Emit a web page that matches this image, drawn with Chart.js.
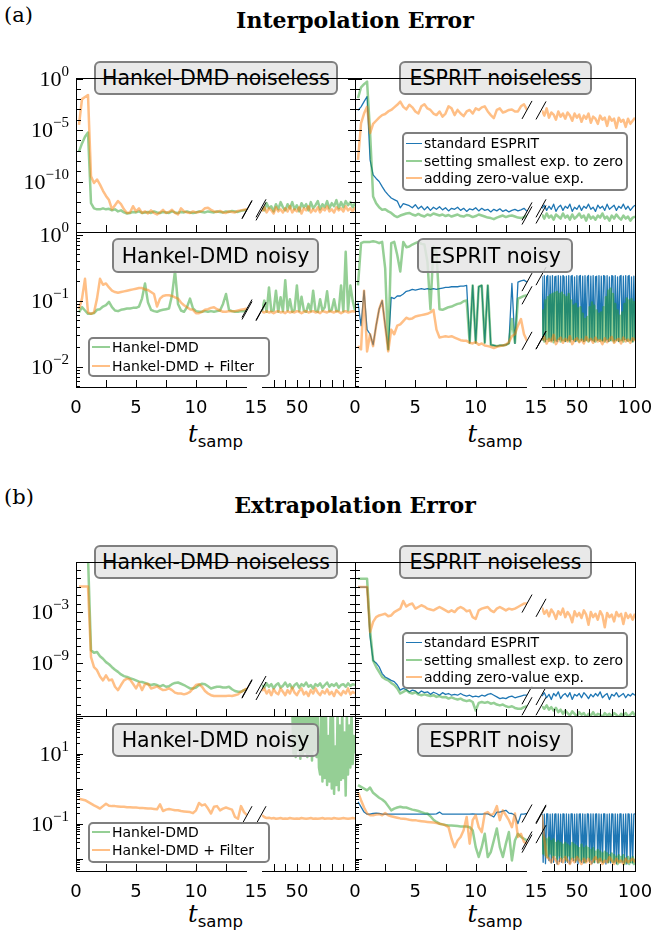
<!DOCTYPE html>
<html>
<head>
<meta charset="utf-8">
<title>Interpolation and extrapolation error</title>
<script src="https://cdn.jsdelivr.net/npm/chart.js@4.4.1/dist/chart.umd.min.js"></script>
<style>
  html, body { margin: 0; padding: 0; background: #fff; }
  #fig { position: relative; width: 655px; height: 940px; overflow: hidden; font-family: "DejaVu Sans", sans-serif; color: #000; }
  #fig canvas { position: absolute; z-index: 1; }
  .txt { position: absolute; white-space: nowrap; }
  .tag { position: absolute; box-sizing: border-box; border: 2px solid #7f7f7f; border-radius: 6px;
         background: rgba(229,229,229,0.85); font-size: 20.5px; display: flex; align-items: center;
         justify-content: center; white-space: nowrap; }
  .legend { position: absolute; box-sizing: border-box; border: 2px solid #7f7f7f; border-radius: 5px;
            background: rgba(255,255,255,0.8); font-size: 14px; white-space: nowrap; z-index: 2; }
  .legend .row { position: absolute; left: 0; display: flex; align-items: center; }
  .legend .key { display: inline-block; height: 0; margin-right: 2px; }
</style>
</head>
<body>
<div id="fig"></div>
<script>
/* ===== DATA (log10 of the error) ===== */
const tLeft = [0.25,0.5,0.75,1,1.25,1.5,1.75,2,
  2.25,2.5,2.75,3,3.25,3.5,3.75,4,
  4.25,4.5,4.75,5,5.25,5.5,5.75,6,
  6.25,6.5,6.75,7,7.25,7.5,7.75,8,
  8.25,8.5,8.75,9,9.25,9.5,9.75,10,
  10.25,10.5,10.75,11,11.25,11.5,11.75,12,
  12.25,12.5,12.75,13,13.25,13.5,13.75,14,
  14.25];
const tRight = [20,22,24,26,28,30,32,34,36,38,40,42,44,46,48,50,52,54,56,58,
  60,62,64,66,68,70,72,74,76,78,80,82,84,86,88,90,92,94,96,98,100];
// finer sampling, used for the strongly oscillating curves
const tRightFine = [20,21,22,23,24,25,26,27,28,29,30,31,32,33,34,35,36,37,38,39,
  40,41,42,43,44,45,46,47,48,49,50,51,52,53,54,55,56,57,58,59,
  60,61,62,63,64,65,66,67,68,69,70,71,72,73,74,75,76,77,78,79,
  80,81,82,83,84,85,86,87,88,89,90,91,92,93,94,95,96,97,98,99,100];

// (a) interpolation, Hankel-DMD noiseless
const interpHankelCleanRawL = [-7.1,-6.3,-5.65,-5.25,-12.1,-12.6,-12.7,-12.7,
  -12.6,-12.7,-12.65,-12.8,-12.7,-12.9,-12.8,-13.0,
  -13.1,-13.05,-12.95,-13.0,-12.9,-13.05,-13.0,-12.95,
  -13.05,-12.9,-13.0,-13.05,-12.95,-13.0,-13.05,-12.9,
  -13.0,-13.05,-12.95,-13.0,-12.9,-13.0,-13.05,-13.0,
  -12.9,-12.95,-13.0,-12.9,-12.95,-13.0,-12.9,-12.95,
  -13.0,-12.9,-12.95,-12.85,-12.9,-12.95,-12.85,-12.8,
  -12.75];
const interpHankelCleanFiltL = [-4.5,-2.0,-1.8,-1.6,-9.5,-10.15,-9.8,-10.3,
  -10.9,-11.4,-11.8,-12.7,-12.3,-11.9,-12.2,-12.7,
  -13.05,-13.0,-12.4,-12.9,-12.6,-13.05,-12.9,-13.1,
  -12.8,-13.05,-13.2,-13.0,-12.75,-13.05,-12.95,-12.75,
  -13.05,-13.2,-12.6,-12.9,-13.0,-13.05,-12.9,-13.0,
  -12.95,-12.85,-12.6,-12.55,-12.75,-12.9,-12.95,-12.85,
  -13.0,-13.05,-12.9,-12.95,-13.0,-12.85,-12.8,-12.75,
  -12.7];
const interpHankelCleanRawR = [-12.6,-12.8,-12.1,-12.6,-12.4,-12.9,-12.2,-12.7,-12.0,-12.5,
  -12.8,-12.2,-12.6,-12.0,-12.7,-12.3,-12.9,-12.1,-12.5,-12.2,
  -12.8,-12.0,-12.6,-12.3,-11.9,-12.7,-12.2,-12.5,-11.9,-12.6,
  -12.1,-12.4,-11.8,-12.6,-12.0,-12.5,-11.9,-12.3,-12.0,-12.5,-12.1];
const interpHankelCleanFiltR = [-12.9,-12.5,-13.0,-12.6,-12.8,-13.1,-12.5,-12.9,-12.7,-13.0,
  -12.6,-12.9,-12.4,-13.0,-12.7,-12.9,-12.5,-13.1,-12.6,-12.8,
  -12.4,-13.0,-12.7,-12.9,-12.5,-13.0,-12.6,-12.8,-12.4,-12.9,
  -12.7,-13.0,-12.5,-12.8,-12.6,-12.9,-12.4,-12.8,-12.6,-12.9,-12.5];

// (a) interpolation, ESPRIT noiseless
const interpEspritCleanStdL = [-3.1,-2.75,-2.25,-1.75,-7.9,-9.35,-9.7,-10.0,
  -10.5,-10.95,-11.3,-11.6,-11.75,-11.9,-12.55,-12.15,
  -12.25,-12.35,-12.55,-12.25,-12.65,-12.4,-12.75,-12.45,
  -12.8,-12.5,-12.7,-12.45,-12.75,-12.55,-12.85,-12.6,
  -12.7,-12.5,-12.8,-12.6,-12.9,-12.65,-12.75,-12.55,
  -12.85,-12.6,-12.8,-12.7,-12.95,-12.7,-12.85,-12.65,
  -12.9,-12.75,-12.95,-12.8,-12.7,-12.85,-12.75,-12.6,
  -12.9];
const interpEspritCleanDropL = [-1.9,-0.85,-0.55,-0.3,-5.3,-11.45,-12.1,-12.5,
  -12.75,-12.7,-12.9,-13.05,-13.3,-13.45,-13.3,-13.2,
  -13.1,-13.05,-13.2,-13.3,-13.15,-13.3,-13.4,-13.2,
  -13.3,-13.1,-13.2,-13.3,-13.2,-13.35,-13.25,-13.4,
  -13.3,-13.2,-13.35,-13.4,-13.25,-13.3,-13.45,-13.35,
  -13.2,-13.3,-13.4,-13.5,-13.55,-13.65,-13.5,-13.4,
  -13.3,-13.45,-13.35,-13.3,-13.4,-13.5,-13.55,-13.45,
  -13.3];
const interpEspritCleanAddL = [-7.9,-4.35,-3.4,-2.75,-5.3,-4.4,-4.1,-3.8,
  -3.55,-3.45,-3.2,-3.05,-2.8,-2.55,-2.25,-2.75,
  -3.0,-2.55,-2.8,-3.2,-3.4,-2.7,-2.5,-2.9,
  -3.05,-3.4,-3.55,-3.2,-3.7,-3.4,-2.7,-2.9,
  -3.55,-3.05,-3.4,-3.65,-3.2,-3.05,-3.4,-2.9,
  -3.05,-2.8,-2.7,-3.2,-3.55,-3.85,-3.05,-2.9,
  -3.3,-3.2,-3.05,-3.0,-3.2,-3.2,-2.7,-2.5,
  -3.05];
const interpEspritCleanStdR = [-12.6,-12.3,-12.8,-12.4,-12.7,-12.2,-12.9,-12.5,-12.3,-12.8,
  -12.4,-12.6,-12.2,-12.9,-12.5,-12.7,-12.3,-12.8,-12.4,-12.6,
  -12.2,-12.7,-12.5,-12.9,-12.3,-12.6,-12.4,-12.8,-12.2,-12.7,
  -12.5,-12.3,-12.8,-12.4,-12.6,-12.2,-12.7,-12.4,-12.8,-12.5,-12.3];
const interpEspritCleanDropR = [-13.2,-13.6,-13.1,-13.5,-13.3,-13.7,-13.2,-13.4,-13.6,-13.1,
  -13.5,-13.3,-13.7,-13.2,-13.6,-13.4,-13.1,-13.5,-13.3,-13.8,
  -13.2,-13.6,-13.4,-13.7,-13.3,-13.5,-13.1,-13.6,-13.4,-13.8,
  -13.3,-13.6,-13.2,-13.5,-13.7,-13.3,-13.6,-13.4,-13.8,-13.5,-13.4];
const interpEspritCleanAddR = [-3.1,-3.6,-2.9,-3.8,-3.3,-3.5,-4.0,-3.2,-3.7,-3.4,
  -3.9,-3.3,-3.6,-4.1,-3.4,-3.8,-3.5,-4.2,-3.6,-3.9,
  -3.4,-4.3,-3.7,-3.9,-4.4,-3.6,-4.0,-3.8,-4.6,-3.7,
  -4.1,-3.9,-4.8,-3.8,-4.2,-4.0,-4.7,-3.9,-4.4,-4.1,-3.8];

// (a) interpolation, Hankel-DMD noisy
const interpHankelNoisyRawL = [-1.18,-1.10,-1.15,-1.2,-1.2,-1.19,-1.14,-1.13,
  -1.09,-1.07,-1.02,-1.10,-1.15,-1.16,-1.14,-1.13,
  -1.12,-1.12,-1.11,-1.11,-1.09,-0.97,-0.74,-1.03,
  -1.14,-1.16,-1.17,-1.15,-1.14,-1.13,-1.12,-0.92,
  -0.55,-1.05,-1.15,-1.17,-1.1,-0.97,-1.12,-1.16,
  -1.17,-1.17,-1.16,-1.17,-1.16,-1.17,-1.16,-1.15,
  -1.05,-0.9,-1.14,-1.16,-1.17,-1.17,-1.16,-1.16,
  -1.15];
const interpHankelNoisyFiltL = [-1.13,-0.97,-0.67,-1.18,-1.2,-1.18,-0.97,-0.67,
  -0.76,-0.74,-0.8,-0.85,-0.87,-0.88,-0.87,-0.86,
  -0.85,-0.84,-0.83,-0.82,-0.81,-0.81,-0.83,-0.84,
  -0.87,-0.9,-1.09,-0.97,-0.93,-0.92,-0.92,-0.93,
  -0.95,-0.97,-1.03,-1.07,-1.1,-1.13,-1.14,-1.19,
  -1.19,-1.17,-1.14,-1.13,-1.11,-1.1,-1.13,-1.15,
  -1.17,-1.17,-1.16,-1.16,-1.16,-1.15,-1.14,-1.13,
  -1.12];
const interpHankelNoisyRawR = [-1.16,-1.0,-1.17,-0.8,-1.16,-1.15,-0.85,-1.17,-0.95,-1.16,
  -0.69,-1.15,-0.98,-1.17,-1.14,-0.77,-1.16,-0.94,-1.15,-1.17,
  -1.05,-1.16,-0.85,-1.15,-1.17,-0.98,-1.15,-1.1,-0.86,-1.16,
  -1.14,-0.98,-1.16,-1.15,-0.77,-1.16,-0.26,-1.15,-0.77,-1.0,-1.15];
const interpHankelNoisyFiltR = [-1.17,-1.18,-1.16,-1.18,-1.17,-1.19,-1.17,-1.16,-1.18,-1.17,
  -1.19,-1.16,-1.18,-1.17,-1.18,-1.16,-1.17,-1.19,-1.17,-1.16,
  -1.18,-1.17,-1.16,-1.18,-1.17,-1.19,-1.16,-1.17,-1.18,-1.16,
  -1.17,-1.18,-1.16,-1.17,-1.19,-1.17,-1.16,-1.18,-1.17,-1.16,-1.17];

// (a) interpolation, ESPRIT noisy
const interpEspritNoisyStdL = [-1.03,-1.38,-0.85,-1.44,-1.51,-1.67,-1.38,-1.13,
  -1.0,-1.38,-1.74,-0.95,-0.97,-0.93,-0.93,-0.9,
  -0.86,-0.85,-0.83,-0.84,-0.83,-0.82,-0.83,-0.82,
  -0.83,-0.82,-0.83,-0.82,-0.81,-0.8,-0.8,-0.79,
  -0.79,-0.79,-0.78,-0.78,-0.77,-1.64,-0.77,-1.64,
  -0.79,-0.77,-1.64,-0.77,-1.67,-1.68,-1.69,-1.68,
  -1.68,-1.67,-1.65,-0.74,-1.65,-0.72,-0.7,-0.69,
  -0.72];
const interpEspritNoisyDropL = [-0.77,-0.13,-0.11,-0.11,-0.11,-0.1,-0.11,-0.13,
  -0.11,-0.51,-1.74,-0.13,-0.11,-0.31,-0.56,-0.11,
  -0.19,-0.18,-0.15,-0.13,-0.11,-0.14,-0.15,-0.41,
  -1.13,-0.18,-0.26,-1.13,-1.14,-1.12,-1.1,-1.09,
  -1.07,-1.05,-1.04,-1.01,-1.0,-1.64,-0.77,-1.64,
  -0.79,-0.77,-1.64,-0.77,-1.67,-1.68,-1.69,-1.68,
  -1.68,-1.67,-1.65,-1.28,-1.64,-0.97,-0.95,-0.93,
  -0.92];
const interpEspritNoisyAddL = [-1.69,-1.74,-0.85,-1.77,-1.51,-1.69,-1.38,-1.13,
  -1.0,-1.38,-1.77,-1.44,-1.51,-1.38,-1.36,-1.31,
  -1.26,-1.28,-1.27,-1.24,-1.23,-1.22,-1.21,-1.2,
  -1.18,-1.14,-1.44,-1.56,-1.55,-1.54,-1.55,-1.54,
  -1.56,-1.58,-1.6,-1.61,-1.61,-1.64,-1.65,-1.63,
  -1.67,-1.65,-1.68,-1.69,-1.7,-1.72,-1.7,-1.69,
  -1.68,-1.67,-1.63,-1.54,-1.51,-1.38,-1.28,-1.51,
  -1.61];
const interpEspritNoisyStdR = [-0.63,-1.6,-0.62,-1.62,-0.64,-0.62,-1.58,-0.63,-1.61,-0.62,
  -1.6,-0.64,-0.63,-1.62,-0.62,-1.59,-0.63,-1.6,-0.62,-0.64,
  -1.62,-0.63,-1.6,-0.62,-1.61,-0.63,-0.62,-1.6,-0.64,-1.62,
  -0.62,-1.59,-0.63,-0.62,-1.6,-0.63,-1.62,-0.62,-1.6,-0.64,
  -0.62,-1.61,-0.63,-1.6,-0.62,-1.62,-0.64,-0.63,-1.6,-0.62,
  -1.59,-0.63,-1.61,-0.62,-0.63,-1.6,-0.62,-1.62,-0.64,-1.6,
  -0.62,-0.63,-1.61,-0.62,-1.6,-0.64,-1.62,-0.63,-0.62,-1.6,
  -0.63,-1.59,-0.62,-1.61,-0.63,-0.62,-1.6,-0.64,-1.62,-0.63,-1.6];
const interpEspritNoisyDropR = [-1.6,-1.15,-1.62,-1.0,-1.58,-0.95,-1.61,-0.92,-1.6,-0.9,
  -1.63,-0.88,-1.6,-0.87,-1.58,-0.9,-1.62,-0.88,-1.6,-0.92,
  -1.61,-0.95,-1.6,-0.9,-1.62,-1.0,-1.58,-1.08,-1.61,-1.05,
  -1.6,-1.12,-1.62,-1.1,-1.59,-1.2,-1.61,-1.28,-1.6,-1.25,
  -1.62,-1.1,-1.58,-1.03,-1.6,-1.08,-1.62,-1.15,-1.59,-1.2,
  -1.61,-1.18,-1.6,-1.1,-1.62,-0.95,-1.58,-0.85,-1.61,-0.82,
  -1.6,-0.9,-1.62,-1.05,-1.59,-1.15,-1.61,-1.23,-1.6,-1.18,
  -1.62,-1.05,-1.58,-0.97,-1.61,-1.0,-1.6,-0.98,-1.62,-1.02,-1.6];
const interpEspritNoisyAddR = [-1.6,-1.55,-1.65,-1.58,-1.62,-1.52,-1.66,-1.6,-1.56,-1.64,
  -1.58,-1.62,-1.54,-1.66,-1.6,-1.57,-1.63,-1.59,-1.65,-1.55,
  -1.61,-1.58,-1.64,-1.56,-1.62,-1.6,-1.66,-1.57,-1.63,-1.59,
  -1.55,-1.64,-1.6,-1.58,-1.65,-1.56,-1.62,-1.59,-1.64,-1.57,-1.61];

// (b) extrapolation, Hankel-DMD noiseless (first points lie above the plot)
const extrapHankelCleanRawL = [3.5,3.5,3.5,3.5,-7.5,-7.8,-7.7,-8.2,
  -8.5,-8.9,-9.15,-9.5,-9.8,-10.05,-10.35,-10.55,
  -10.65,-10.8,-10.9,-11.05,-11.2,-11.25,-11.35,-11.5,
  -11.6,-11.5,-11.6,-11.75,-11.6,-11.8,-11.75,-11.5,
  -11.35,-11.3,-11.45,-11.6,-11.8,-12.0,-12.0,-11.9,
  -11.6,-11.45,-11.5,-11.75,-12.0,-11.9,-11.8,-11.8,
  -11.9,-11.9,-11.8,-12.1,-12.3,-12.4,-12.4,-12.2,
  -12.1];
const extrapHankelCleanFiltL = [0.02,0.02,0.02,0.02,-8.3,-9.5,-9.85,-10.6,
  -11.05,-10.45,-11.05,-10.95,-11.8,-12.2,-11.6,-11.05,
  -10.85,-10.95,-11.45,-12.0,-11.35,-12.2,-11.5,-11.45,
  -12.0,-11.9,-11.75,-12.0,-12.2,-12.15,-12.0,-12.2,
  -12.5,-12.6,-12.6,-12.7,-12.6,-12.4,-12.0,-11.6,
  -11.5,-11.8,-12.3,-12.6,-12.8,-12.9,-12.9,-12.9,
  -12.9,-12.9,-12.85,-12.9,-12.8,-12.7,-12.4,-12.2,
  -12.0];
const extrapHankelCleanRawR = [-11.6,-11.9,-11.4,-11.8,-11.5,-12.0,-11.6,-11.4,-11.9,-11.7,
  -11.3,-11.8,-11.5,-12.0,-11.6,-11.4,-11.9,-11.5,-11.7,-11.3,
  -11.8,-11.6,-12.0,-11.5,-11.7,-11.4,-11.9,-11.6,-11.3,-11.8,
  -11.5,-11.7,-11.4,-11.9,-11.6,-11.5,-11.8,-11.4,-11.7,-11.5,-11.6];
const extrapHankelCleanFiltR = [-12.3,-12.0,-12.6,-12.2,-12.8,-12.1,-12.5,-12.7,-12.0,-12.4,
  -12.8,-12.2,-12.6,-11.9,-12.5,-12.8,-12.3,-12.0,-12.7,-12.4,
  -12.9,-12.2,-12.6,-12.0,-12.5,-12.8,-12.3,-12.6,-12.1,-12.7,
  -12.4,-12.9,-12.2,-12.5,-12.8,-12.3,-12.6,-12.0,-12.7,-12.4,-12.6];

// (b) extrapolation, ESPRIT noiseless
const extrapEspritCleanStdL = [-0.05,-0.05,-0.05,-0.05,-5.9,-8.7,-9.0,-9.45,
  -10.25,-10.65,-10.85,-11.05,-11.2,-11.6,-12.2,-12.0,
  -12.15,-12.4,-12.2,-12.3,-12.6,-12.3,-12.5,-12.4,
  -12.7,-12.45,-12.6,-12.8,-12.5,-12.7,-12.6,-12.8,
  -12.7,-12.8,-12.6,-12.8,-12.9,-12.8,-13.0,-12.9,
  -13.0,-12.8,-12.9,-12.7,-12.6,-12.8,-13.0,-13.2,
  -13.1,-13.2,-13.0,-12.9,-13.1,-13.0,-12.9,-12.8,
  -12.8];
const extrapEspritCleanDropL = [0.93,0.93,0.93,0.93,-5.15,-8.7,-9.45,-10.05,
  -10.65,-10.9,-11.05,-11.35,-11.6,-12.0,-12.6,-12.4,
  -12.2,-12.5,-12.6,-12.45,-12.7,-12.8,-12.7,-12.8,
  -12.9,-12.8,-13.0,-12.9,-13.05,-13.0,-13.2,-13.05,
  -13.2,-13.3,-13.2,-13.4,-13.5,-13.4,-13.6,-14.6,
  -13.7,-13.6,-13.7,-13.6,-13.8,-13.7,-13.9,-14.0,
  -13.9,-14.1,-14.2,-14.1,-14.3,-14.4,-14.4,-14.2,
  -14.1];
const extrapEspritCleanAddL = [-0.05,-0.05,-0.05,-0.05,-5.35,-4.15,-3.6,-3.4,
  -3.3,-3.2,-3.5,-3.4,-3.0,-2.8,-2.6,-1.7,
  -2.35,-2.1,-2.0,-2.6,-2.4,-2.2,-2.35,-2.6,
  -2.7,-2.8,-2.6,-2.4,-2.6,-2.8,-3.0,-2.8,
  -3.0,-2.6,-2.4,-2.6,-2.9,-2.8,-3.6,-3.8,
  -2.8,-2.6,-2.5,-2.4,-2.8,-3.0,-2.6,-2.4,
  -2.6,-2.8,-2.6,-2.7,-2.6,-2.4,-2.2,-2.0,
  -2.0];
const extrapEspritCleanStdR = [-12.9,-12.5,-13.1,-12.7,-13.3,-12.6,-12.9,-12.4,-13.2,-12.8,
  -12.6,-13.0,-12.5,-13.3,-12.7,-12.9,-12.6,-13.1,-12.5,-12.8,
  -13.2,-12.7,-13.0,-12.6,-12.9,-12.4,-13.1,-12.8,-12.6,-13.3,
  -12.7,-12.9,-12.5,-13.0,-12.8,-12.6,-13.1,-12.7,-12.9,-12.6,-12.8];
const extrapEspritCleanDropR = [-14.1,-14.4,-14.0,-14.5,-14.2,-14.6,-14.3,-14.8,-14.5,-15.0,
  -14.6,-14.9,-15.2,-14.7,-15.0,-15.3,-14.8,-15.1,-14.9,-15.4,
  -15.0,-15.2,-14.8,-15.3,-15.0,-15.1,-15.4,-14.9,-15.2,-15.0,
  -15.3,-14.9,-15.1,-15.4,-15.0,-15.2,-14.9,-15.3,-15.1,-14.8,-15.2];
const extrapEspritCleanAddR = [-2.5,-3.2,-2.8,-3.5,-2.7,-3.1,-3.8,-2.9,-3.3,-2.6,
  -3.6,-3.0,-3.4,-4.2,-2.9,-3.5,-3.1,-3.7,-2.8,-3.3,
  -4.5,-3.0,-3.6,-3.2,-3.9,-2.9,-3.4,-4.8,-3.1,-3.6,
  -3.3,-4.1,-3.0,-3.5,-3.2,-4.4,-3.1,-3.7,-3.3,-3.9,-3.2];

// (b) extrapolation, Hankel-DMD noisy (plain Hankel-DMD stays above the plot until t ~ 46)
const extrapHankelNoisyRawL = [];
const extrapHankelNoisyFiltL = [-0.29,-0.31,-0.33,-0.38,-0.43,-0.48,-0.52,-0.57,
  -0.5,-0.43,-0.49,-0.5,-0.5,-0.51,-0.52,-0.52,
  -0.53,-0.53,-0.54,-0.54,-0.55,-0.55,-0.56,-0.57,
  -0.57,-0.58,-0.59,-0.45,-0.64,-0.6,-0.58,-0.6,
  -0.62,-0.62,-0.64,-0.65,-0.66,-0.67,-0.7,-0.62,
  -0.41,-0.48,-0.45,-0.57,-0.71,-0.52,-0.5,-0.62,
  -0.57,-0.54,-0.57,-0.6,-0.81,-0.86,-0.5,-0.67,
  -0.76];
const extrapHankelNoisyRawR = [null,null,null,null,null,null,null,null,null,null,
  null,null,null,null,null,null,null,null,null,null,
  null,null,null,null,null,null,2.3,1.0,2.3,0.9,
  2.2,1.1,2.3,0.85,2.3,0.95,2.2,1.05,2.3,0.9,
  2.2,1.0,2.3,0.8,2.2,1.1,2.3,0.9,2.2,0.6,
  0.4,2.2,0.2,2.1,0.3,2.2,0.1,1.5,0.2,2.2,
  0.0,2.1,-0.15,1.2,0.1,2.2,-0.05,1.8,0.25,2.2,
  0.3,1.6,-0.2,2.1,0.4,1.8,0.6,2.2,0.7,1.5,1.0];
const extrapHankelNoisyFiltR = [-0.76,-0.81,-0.84,-0.83,-0.85,-0.84,-0.86,-0.85,-0.84,-0.86,
  -0.85,-0.86,-0.84,-0.85,-0.86,-0.85,-0.86,-0.84,-0.85,-0.86,
  -0.85,-0.84,-0.86,-0.85,-0.86,-0.85,-0.84,-0.86,-0.85,-0.85,
  -0.86,-0.84,-0.85,-0.86,-0.85,-0.84,-0.85,-0.86,-0.85,-0.84,-0.85];

// (b) extrapolation, ESPRIT noisy
const extrapEspritNoisyStdL = [-0.38,-0.52,-0.67,-0.73,-0.73,-0.71,-0.7,-0.71,
  -0.73,-0.73,-0.73,-0.73,-0.73,-0.73,-0.73,-0.73,
  -0.73,-0.73,-0.73,-0.73,-0.73,-0.73,-0.73,-0.73,
  -0.73,-0.73,-0.72,-0.67,-0.73,-0.73,-0.73,-0.73,
  -0.73,-0.73,-0.73,-0.73,-0.73,-0.73,-0.72,-0.73,
  -0.73,-0.73,-0.72,-0.72,-0.76,-0.81,-0.67,-0.67,
  -0.64,-0.62,-0.7,-0.71,-0.76,-1.0,-0.73,-0.73,
  -0.71];
const extrapEspritNoisyDropL = [0.1,0.05,0.0,-0.05,0.03,-0.12,-0.19,-0.26,
  -0.31,-0.38,-0.5,-0.62,-0.57,-0.54,-0.52,-0.54,
  -0.54,-0.57,-0.6,-0.62,-0.64,-0.67,-0.7,-0.71,
  -0.79,-0.89,-0.95,-1.0,-1.02,-1.04,-1.05,-1.05,
  -1.06,-1.07,-1.08,-1.08,-1.08,-1.1,-1.19,-1.67,
  -1.95,-1.67,-1.29,-1.95,-1.81,-1.48,-1.14,-1.67,
  -1.95,-1.57,-1.24,-2.05,-1.48,-1.29,-1.38,-1.43,
  -1.48];
const extrapEspritNoisyAddL = [-0.1,-0.33,-0.54,-0.71,-0.76,-0.76,-0.74,-0.73,
  -0.76,-0.7,-0.76,-0.79,-0.81,-0.83,-0.85,-0.86,
  -0.87,-0.89,-0.9,-0.9,-0.92,-0.93,-0.94,-0.95,
  -0.96,-0.97,-0.98,-1.0,-1.02,-1.05,-1.1,-1.43,
  -1.67,-1.48,-1.38,-1.19,-0.81,-1.57,-0.9,-0.76,
  -1.1,-1.24,-0.71,-0.67,-0.76,-0.71,-0.5,-0.9,
  -0.62,-0.76,-0.9,-1.1,-0.71,-1.38,-1.29,-1.52,
  -1.57];
const extrapEspritNoisyStdR = [-0.72,-2.1,-0.73,-2.14,-0.72,-0.72,-2.05,-0.73,-2.12,-0.72,
  -2.1,-0.73,-0.72,-2.15,-0.72,-2.08,-0.73,-2.1,-0.72,-0.73,
  -2.12,-0.72,-2.1,-0.73,-2.14,-0.72,-0.72,-2.05,-0.73,-2.1,
  -0.72,-2.15,-0.73,-0.72,-2.1,-0.72,-2.12,-0.73,-2.08,-0.72,
  -0.73,-2.1,-0.72,-2.14,-0.72,-2.1,-0.73,-0.72,-2.12,-0.72,
  -2.05,-0.73,-2.1,-0.72,-0.72,-2.15,-0.73,-2.1,-0.72,-2.12,
  -0.72,-0.73,-2.1,-0.72,-2.14,-0.73,-2.08,-0.72,-0.72,-2.1,
  -0.73,-2.12,-0.72,-2.15,-0.72,-0.73,-2.1,-0.72,-2.12,-0.73,-0.72];
const extrapEspritNoisyDropR = [-1.3,-1.85,-1.4,-1.9,-1.45,-1.95,-1.4,-1.85,-1.5,-1.95,
  -1.45,-1.9,-1.55,-2.0,-1.5,-1.9,-1.55,-2.0,-1.6,-1.95,
  -1.55,-2.05,-1.6,-1.9,-1.65,-2.0,-1.55,-1.95,-1.6,-2.05,
  -1.65,-1.95,-1.7,-2.05,-1.6,-2.0,-1.7,-2.1,-1.65,-1.95,
  -1.7,-2.05,-1.75,-2.0,-1.7,-2.1,-1.8,-2.0,-1.75,-2.1,
  -1.8,-2.05,-1.85,-2.1,-1.8,-2.0,-1.85,-2.1,-1.9,-2.05,
  -1.85,-2.1,-1.9,-2.05,-1.95,-2.15,-1.9,-2.1,-1.95,-2.05,
  -1.9,-2.15,-2.0,-2.1,-1.95,-2.15,-2.0,-2.1,-1.95,-2.15,-2.0];
const extrapEspritNoisyAddR = [-0.75,-1.45,-1.95,-2.0,-2.1,-1.95,-2.05,-2.15,-2.0,-2.1,
  -1.95,-2.05,-2.15,-2.0,-2.1,-1.95,-2.05,-2.15,-2.0,-2.1,
  -2.0,-2.15,-2.05,-1.95,-2.1,-2.0,-2.15,-2.05,-2.1,-1.95,
  -2.05,-2.15,-2.0,-2.1,-2.05,-2.15,-2.0,-2.1,-2.05,-2.0,-2.1];

// tick labels
const xLabelsLeft = [0, 5, 10, 15];
const xTicksLeft = [2.5, 5, 7.5, 10, 12.5];
const xTicksRight = [30, 40, 50, 60, 70, 80, 90];

/* ===== STYLE ===== */
const BLUE = "#1f77b4";
const GREEN = "rgba(44,160,44,0.5)";
const ORANGE = "rgba(255,127,14,0.5)";
const PAD = { left: 80, right: 25, top: 20, bottom: 35 };
const GAP = 15;
const fig = document.getElementById("fig");

/* ===== AXES DECORATION (spines, inward ticks, labels, break marks) ===== */
const frame = {
  id: "frame",
  afterDatasetsDraw(chart, _args, o) {
    const { ctx, chartArea: a, scales: { x, y } } = chart;
    const L = a.left, R = a.right, T = a.top, B = a.bottom;
    const seg = (x1, y1, x2, y2) => {
      ctx.beginPath(); ctx.moveTo(x1, y1); ctx.lineTo(x2, y2); ctx.stroke();
    };
    ctx.save();
    ctx.strokeStyle = "#000";
    ctx.lineWidth = 1;

    // break marks at the end of every curve
    chart.data.datasets.forEach(ds => {
      const pts = ds.data.filter(p => p.y != null);
      if (!pts.length) return;
      const p = o.side === "L" ? pts[pts.length - 1] : pts[0];
      const py = y.getPixelForValue(p.y);
      if (py < T || py > B) return;
      const cx = o.side === "L" ? R : L - 1;
      seg(cx - 5, py + 9, cx + 5, py - 9);
    });

    // spines
    const ext = o.side === "L" ? GAP : 0;
    seg(L, T + .5, R + ext, T + .5);
    seg(L, B + .5, R + (o.bottomRow ? 0 : ext), B + .5);
    if (o.side === "L") seg(L + .5, T, L + .5, B + 1);
    else seg(R + .5, T, R + .5, B + 1);

    // y ticks
    const yTick = (v, len) => {
      const py = Math.round(y.getPixelForValue(10 ** v)) + .5;
      if (py < T || py > B + 1) return;
      if (o.side === "L") seg(L, py, L + len, py);
      else if (o.rightTicks) seg(R, py, R - len, py);
    };
    o.decades.forEach(d => yTick(d, o.minorTicks.length || o.yLabels.includes(d) ? 7 : 5));
    o.minorTicks.forEach(v => yTick(v, 4));

    // x ticks
    o.xTicks.forEach(v => {
      const px = Math.round(x.getPixelForValue(v)) + .5;
      seg(px, B, px, B - 7);
    });

    ctx.fillStyle = "#000";
    ctx.textBaseline = "alphabetic";
    if (o.bottomRow) {
      ctx.font = '18px "DejaVu Sans"';
      ctx.textAlign = "center";
      o.xLabels.forEach(v => ctx.fillText(String(v), x.getPixelForValue(v), B + 26));
    }
    if (o.showYLabels) {
      ctx.textAlign = "left";
      o.yLabels.forEach(e => {
        const py = y.getPixelForValue(10 ** e);
        const exp = e < 0 ? "\u2212" + (-e) : String(e);
        ctx.font = '15px "Liberation Serif"';
        const we = ctx.measureText(exp).width;
        ctx.font = '22px "Liberation Serif"';
        const wb = ctx.measureText("10").width;
        const xr = L - 7;
        ctx.fillText("10", xr - we - wb, py + 7);
        ctx.font = '15px "Liberation Serif"';
        ctx.fillText(exp, xr - we, py - 3);
      });
    }
    ctx.restore();
  }
};

function decadesIn(lo, hi) {
  const out = [];
  for (let d = Math.ceil(lo); d <= Math.floor(hi); d++) out.push(d);
  return out;
}
function minorsIn(lo, hi) {
  const out = [];
  for (let d = Math.floor(lo); d < hi; d++)
    for (let k = 2; k < 10; k++) {
      const v = d + Math.log10(k);
      if (v > lo && v < hi) out.push(v);
    }
  return out;
}

/* ===== ONE SUB-AXES = ONE CHART ===== */
function addAxes(box, row, side, col, series) {
  const w = box.x1 - box.x0, h = row.y1 - row.y0;
  const cv = document.createElement("canvas");
  cv.width = w + PAD.left + PAD.right;
  cv.height = h + PAD.top + PAD.bottom;
  cv.style.left = (box.x0 - PAD.left) + "px";
  cv.style.top = (row.y0 - PAD.top) + "px";
  fig.appendChild(cv);

  const datasets = series.map(([vals, color, width]) => {
    const t = side === "L" ? tLeft : (vals.length === tRightFine.length ? tRightFine : tRight);
    return {
      data: vals.map((v, i) => ({ x: t[i], y: v == null ? null : 10 ** v })),
      borderColor: color,
      borderWidth: width,
      pointRadius: 0,
      fill: false,
      tension: 0,
      clip: 0,
      borderJoinStyle: "round"
    };
  });

  new Chart(cv, {
    type: "line",
    data: { datasets },
    options: {
      responsive: false,
      animation: false,
      devicePixelRatio: 1,
      events: [],
      layout: { padding: PAD },
      plugins: {
        legend: { display: false },
        tooltip: { enabled: false },
        frame: {
          side,
          bottomRow: row.bottomRow,
          rightTicks: row.rightTicks && col === 0,
          decades: decadesIn(row.lo, row.hi),
          minorTicks: row.minor ? minorsIn(row.lo, row.hi) : [],
          yLabels: row.labels,
          showYLabels: side === "L" && col === 0,
          xTicks: side === "L" ? xTicksLeft : xTicksRight,
          xLabels: side === "L" ? xLabelsLeft : (col === 1 ? [50, 100] : [50])
        }
      },
      scales: {
        x: { type: "linear", min: side === "L" ? 0 : 20, max: side === "L" ? 14.25 : 100, display: false, bounds: "data" },
        y: { type: "logarithmic", min: 10 ** row.lo, max: 10 ** row.hi, display: false, bounds: "data" }
      }
    },
    plugins: [frame]
  });
}

const cols = [
  { L: { x0: 76, x1: 247 }, R: { x0: 262, x1: 355 } },
  { L: { x0: 355, x1: 527 }, R: { x0: 542, x1: 635 } }
];
const rowA1 = { y0: 78, y1: 232, lo: -14.9, hi: 0.05, labels: [0, -5, -10], minor: false, bottomRow: false, rightTicks: true };
const rowA2 = { y0: 232, y1: 387, lo: -2.31, hi: 0.04, labels: [0, -1, -2], minor: true, bottomRow: true, rightTicks: false };
const rowB1 = { y0: 562, y1: 716, lo: -15.25, hi: 2.9, labels: [-3, -9], minor: false, bottomRow: false, rightTicks: true };
const rowB2 = { y0: 716, y1: 871, lo: -2.35, hi: 2.07, labels: [1, -1], minor: true, bottomRow: true, rightTicks: false };

// Hankel-DMD panels: filter (orange) on top of plain (green)
function hankel(row, col, rawL, filtL, rawR, filtR) {
  addAxes(cols[col].L, row, "L", col, [[filtL, ORANGE, 2.5], [rawL, GREEN, 2.5]]);
  addAxes(cols[col].R, row, "R", col, [[filtR, ORANGE, 2.5], [rawR, GREEN, 2.5]]);
}
// ESPRIT panels: orange over green over blue
function esprit(row, col, stdL, dropL, addL, stdR, dropR, addR) {
  addAxes(cols[col].L, row, "L", col, [[addL, ORANGE, 2.5], [dropL, GREEN, 2.5], [stdL, BLUE, 1.3]]);
  addAxes(cols[col].R, row, "R", col, [[addR, ORANGE, 2.5], [dropR, GREEN, 2.5], [stdR, BLUE, 1.3]]);
}

/* ===== TEXT HELPERS ===== */
function text(str, x, base, font, size, align) {
  const d = document.createElement("div");
  d.className = "txt";
  d.textContent = str;
  d.style.font = font;
  d.style.lineHeight = (1.164 * size) + "px";
  d.style.top = (base - 0.928 * size) + "px";
  d.style.left = x + "px";
  if (align === "center") d.style.transform = "translateX(-50%)";
  fig.appendChild(d);
}
function xlabel(cx, base) {
  const d = document.createElement("div");
  d.className = "txt";
  d.style.font = 'italic 24px "DejaVu Serif"';
  d.style.lineHeight = "28px";
  d.style.top = (base - 22.3) + "px";
  d.style.left = cx + "px";
  d.style.transform = "translateX(-50%)";
  d.innerHTML = 't<span style="font:16.5px \'DejaVu Sans\';position:relative;top:5px">samp</span>';
  fig.appendChild(d);
}
function tag(label, x, y, w, h, z) {
  const d = document.createElement("div");
  d.className = "tag";
  d.textContent = label;
  Object.assign(d.style, { left: x + "px", top: y + "px", width: w + "px", height: h + "px", zIndex: z });
  fig.appendChild(d);
}
function legend(x, y, w, h, rowH, keyW, padL, items) {
  const d = document.createElement("div");
  d.className = "legend";
  Object.assign(d.style, { left: x + "px", top: y + "px", width: w + "px", height: h + "px" });
  items.forEach(([label, color, width, cy]) => {
    const r = document.createElement("div");
    r.className = "row";
    Object.assign(r.style, { top: (cy - y - 2 - rowH / 2) + "px", height: rowH + "px", paddingLeft: padL + "px" });
    const k = document.createElement("span");
    k.className = "key";
    Object.assign(k.style, { width: keyW + "px", borderTop: width + "px solid " + color });
    const s = document.createElement("span");
    s.textContent = label;
    r.appendChild(k); r.appendChild(s);
    d.appendChild(r);
  });
  fig.appendChild(d);
}

/* ===== BUILD ===== */
// titles that sit behind the top spine
tag("Hankel-DMD noiseless", 94, 61, 244, 34, 0);
tag("ESPRIT noiseless", 399, 61, 193, 34, 0);
tag("Hankel-DMD noiseless", 94, 545, 244, 34, 0);
tag("ESPRIT noiseless", 399, 545, 193, 34, 0);

hankel(rowA1, 0, interpHankelCleanRawL, interpHankelCleanFiltL, interpHankelCleanRawR, interpHankelCleanFiltR);
esprit(rowA1, 1, interpEspritCleanStdL, interpEspritCleanDropL, interpEspritCleanAddL,
       interpEspritCleanStdR, interpEspritCleanDropR, interpEspritCleanAddR);
hankel(rowA2, 0, interpHankelNoisyRawL, interpHankelNoisyFiltL, interpHankelNoisyRawR, interpHankelNoisyFiltR);
esprit(rowA2, 1, interpEspritNoisyStdL, interpEspritNoisyDropL, interpEspritNoisyAddL,
       interpEspritNoisyStdR, interpEspritNoisyDropR, interpEspritNoisyAddR);
hankel(rowB1, 0, extrapHankelCleanRawL, extrapHankelCleanFiltL, extrapHankelCleanRawR, extrapHankelCleanFiltR);
esprit(rowB1, 1, extrapEspritCleanStdL, extrapEspritCleanDropL, extrapEspritCleanAddL,
       extrapEspritCleanStdR, extrapEspritCleanDropR, extrapEspritCleanAddR);
hankel(rowB2, 0, extrapHankelNoisyRawL, extrapHankelNoisyFiltL, extrapHankelNoisyRawR, extrapHankelNoisyFiltR);
esprit(rowB2, 1, extrapEspritNoisyStdL, extrapEspritNoisyDropL, extrapEspritNoisyAddL,
       extrapEspritNoisyStdR, extrapEspritNoisyDropR, extrapEspritNoisyAddR);

// titles over the noisy panels
tag("Hankel-DMD noisy", 112, 238, 207, 35, 2);
tag("ESPRIT noisy", 417, 238, 156, 35, 2);
tag("Hankel-DMD noisy", 112, 723, 207, 34, 2);
tag("ESPRIT noisy", 417, 723, 156, 34, 2);

const espritItems = ["standard ESPRIT", "setting smallest exp. to zero", "adding zero-value exp."];
legend(402, 132, 226, 59, 17.5, 16, 2, [
  [espritItems[0], BLUE, 1.3, 143.3], [espritItems[1], GREEN, 2.5, 160.7], [espritItems[2], ORANGE, 2.5, 178.3]]);
legend(402, 632, 226, 57, 17.5, 16, 2, [
  [espritItems[0], BLUE, 1.3, 642.3], [espritItems[1], GREEN, 2.5, 660], [espritItems[2], ORANGE, 2.5, 677.3]]);
legend(88, 337, 182, 40, 19, 18, 2, [
  ["Hankel-DMD", GREEN, 2.5, 346.7], ["Hankel-DMD + Filter", ORANGE, 2.5, 365.7]]);
legend(88, 822, 182, 41, 19, 18, 2, [
  ["Hankel-DMD", GREEN, 2.5, 831.7], ["Hankel-DMD + Filter", ORANGE, 2.5, 850]]);

text("(a)", 4, 22, '21px "DejaVu Serif"', 21);
text("Interpolation Error", 355, 28, 'bold 22px "DejaVu Serif"', 22, "center");
text("(b)", 4, 504, '21px "DejaVu Serif"', 21);
text("Extrapolation Error", 355, 513, 'bold 22px "DejaVu Serif"', 22, "center");
xlabel(215.5, 442);
xlabel(495, 442);
xlabel(215.5, 922);
xlabel(495, 922);
</script>
</body>
</html>
